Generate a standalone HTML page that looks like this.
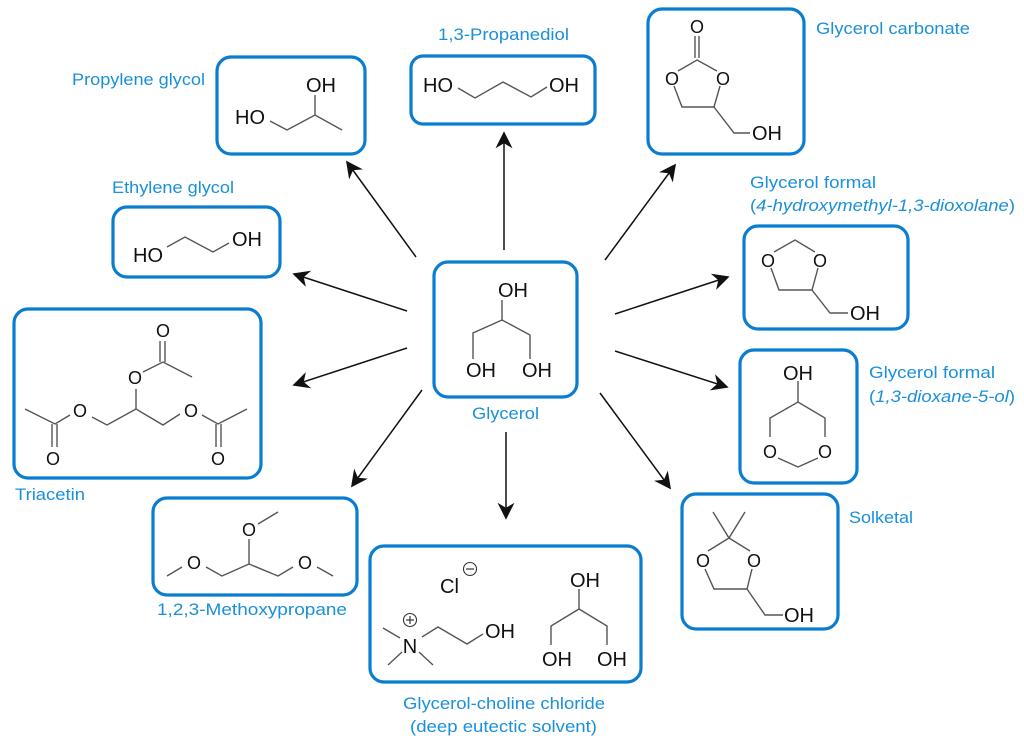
<!DOCTYPE html>
<html><head><meta charset="utf-8"><style>
html,body{margin:0;padding:0;background:#fff}
svg{display:block}
.b{fill:none;stroke:#0b7dd0;stroke-width:3.2}
.l{font-family:"Liberation Sans",sans-serif;font-size:16.5px;fill:#1a90d8}
.a{font-family:"Liberation Sans",sans-serif;font-size:20px;fill:#111}
.s{font-family:"Liberation Sans",sans-serif;font-size:18px;fill:#111}
.k{fill:none;stroke:#555;stroke-width:1.4}
.r{stroke:#111;stroke-width:1.5}
</style></head><body>
<svg width="1024" height="745" viewBox="0 0 1024 745" xmlns="http://www.w3.org/2000/svg">
<defs><marker id="m" viewBox="0 0 10 10" refX="9" refY="5" markerWidth="17" markerHeight="17" markerUnits="userSpaceOnUse" orient="auto"><path d="M0,0 L10,5 L0,10 L3,5 z" fill="#111"/></marker></defs>

<!-- arrows -->
<g class="r" marker-end="url(#m)">
<line x1="416" y1="257" x2="347" y2="162"/>
<line x1="504" y1="250" x2="504" y2="133"/>
<line x1="407" y1="311" x2="294" y2="274"/>
<line x1="407" y1="348" x2="294" y2="385"/>
<line x1="605" y1="260" x2="675" y2="165"/>
<line x1="615" y1="314" x2="728" y2="277"/>
<line x1="615" y1="351" x2="727" y2="387"/>
<line x1="600" y1="393" x2="670" y2="488"/>
<line x1="422" y1="390" x2="352" y2="486"/>
<line x1="506" y1="432" x2="506" y2="518"/>
</g>

<!-- boxes -->
<rect class="b" x="217" y="57" width="148" height="97" rx="14"/>
<rect class="b" x="411" y="56" width="184" height="68" rx="12"/>
<rect class="b" x="648" y="9" width="156" height="145" rx="14"/>
<rect class="b" x="113" y="207" width="167" height="70" rx="14"/>
<rect class="b" x="744" y="226" width="164" height="103" rx="14"/>
<rect class="b" x="434" y="262" width="143" height="135" rx="14"/>
<rect class="b" x="14" y="309" width="247" height="169" rx="14"/>
<rect class="b" x="740" y="350" width="117" height="133" rx="14"/>
<rect class="b" x="682" y="494" width="156" height="135" rx="14"/>
<rect class="b" x="153" y="498" width="204" height="97" rx="14"/>
<rect class="b" x="370" y="546" width="271" height="136" rx="14"/>

<!-- labels -->
<text class="l" x="72" y="85" textLength="133" lengthAdjust="spacingAndGlyphs">Propylene glycol</text>
<text class="l" x="438" y="40" textLength="131" lengthAdjust="spacingAndGlyphs">1,3-Propanediol</text>
<text class="l" x="816" y="34" textLength="154" lengthAdjust="spacingAndGlyphs">Glycerol carbonate</text>
<text class="l" x="112" y="193" textLength="122" lengthAdjust="spacingAndGlyphs">Ethylene glycol</text>
<text class="l" x="750" y="188" textLength="126" lengthAdjust="spacingAndGlyphs">Glycerol formal</text>
<text class="l" x="750" y="211" textLength="265" lengthAdjust="spacingAndGlyphs">(<tspan font-style="italic">4-hydroxymethyl-1,3-dioxolane</tspan>)</text>
<text class="l" x="869" y="378" textLength="126" lengthAdjust="spacingAndGlyphs">Glycerol formal</text>
<text class="l" x="869" y="402" textLength="146" lengthAdjust="spacingAndGlyphs">(<tspan font-style="italic">1,3-dioxane-5-ol</tspan>)</text>
<text class="l" x="472" y="419" textLength="67" lengthAdjust="spacingAndGlyphs">Glycerol</text>
<text class="l" x="15" y="500" textLength="70" lengthAdjust="spacingAndGlyphs">Triacetin</text>
<text class="l" x="849" y="523" textLength="64" lengthAdjust="spacingAndGlyphs">Solketal</text>
<text class="l" x="157" y="615" textLength="190" lengthAdjust="spacingAndGlyphs">1,2,3-Methoxypropane</text>
<text class="l" x="403" y="709" textLength="202" lengthAdjust="spacingAndGlyphs">Glycerol-choline chloride</text>
<text class="l" x="410" y="732" textLength="187" lengthAdjust="spacingAndGlyphs">(deep eutectic solvent)</text>

<!-- Propylene glycol -->
<polyline class="k" points="270,121 287,130 315,115 342,130"/>
<line class="k" x1="315" y1="115" x2="315" y2="95"/>
<text class="a" x="235" y="124">HO</text>
<text class="a" x="306" y="92">OH</text>

<!-- 1,3-propanediol -->
<polyline class="k" points="458,88 475,98 503,82 531,97 547,87"/>
<text class="a" x="423" y="92">HO</text>
<text class="a" x="549" y="92">OH</text>

<!-- Ethylene glycol -->
<polyline class="k" points="167,247 185,237 213,252 229,243"/>
<text class="a" x="133" y="262">HO</text>
<text class="a" x="232" y="246">OH</text>

<!-- Glycerol carbonate -->
<line class="k" x1="695" y1="36" x2="695" y2="58"/><line class="k" x1="699" y1="36" x2="699" y2="58"/>
<polyline class="k" points="678,71 697,60 717,71"/>
<polyline class="k" points="674,86 682,107 714,107 720,86"/>
<polyline class="k" points="714,107 734,133 750,133"/>
<text class="s" x="697" y="33" text-anchor="middle">O</text>
<text class="s" x="672" y="85" text-anchor="middle">O</text>
<text class="s" x="723" y="85" text-anchor="middle">O</text>
<text class="a" x="752" y="140">OH</text>

<!-- Glycerol formal 1 -->
<polyline class="k" points="774,252 795,240 815,252"/>
<polyline class="k" points="771,268 779,290 812,290 818,268"/>
<polyline class="k" points="812,290 830,313 848,313"/>
<text class="s" x="768" y="267" text-anchor="middle">O</text>
<text class="s" x="820" y="267" text-anchor="middle">O</text>
<text class="a" x="850" y="320">OH</text>

<!-- Glycerol -->
<line class="k" x1="502" y1="300" x2="502" y2="320"/>
<polyline class="k" points="473,359 473,333 502,320 530,335 530,359"/>
<text class="a" x="498" y="297">OH</text>
<text class="a" x="466" y="377">OH</text>
<text class="a" x="522" y="377">OH</text>

<!-- Triacetin -->
<line class="k" x1="160" y1="341" x2="160" y2="362"/><line class="k" x1="165" y1="341" x2="165" y2="362"/>
<polyline class="k" points="143,372 163,362 192,377"/>
<line class="k" x1="136" y1="389" x2="136" y2="409"/>
<polyline class="k" points="92,417 107,425 136,409 163,425 180,414"/>
<polyline class="k" points="70,415 55,424 25,409"/>
<line class="k" x1="52" y1="424" x2="52" y2="447"/><line class="k" x1="57" y1="424" x2="57" y2="447"/>
<polyline class="k" points="202,415 218,424 247,409"/>
<line class="k" x1="216" y1="424" x2="216" y2="447"/><line class="k" x1="221" y1="424" x2="221" y2="447"/>
<text class="s" x="163" y="337" text-anchor="middle">O</text>
<text class="s" x="135" y="384" text-anchor="middle">O</text>
<text class="s" x="80" y="417" text-anchor="middle">O</text>
<text class="s" x="191" y="417" text-anchor="middle">O</text>
<text class="s" x="53" y="465" text-anchor="middle">O</text>
<text class="s" x="218" y="465" text-anchor="middle">O</text>

<!-- Glycerol formal 2 -->
<line class="k" x1="798" y1="381" x2="798" y2="402"/>
<polyline class="k" points="770,437 770,418 798,402 825,418 825,437"/>
<polyline class="k" points="778,458 798,467 818,458"/>
<text class="a" x="783" y="380">OH</text>
<text class="s" x="770" y="458" text-anchor="middle">O</text>
<text class="s" x="825" y="458" text-anchor="middle">O</text>

<!-- Solketal -->
<polyline class="k" points="713,512 729,538 745,512"/>
<polyline class="k" points="708,551 729,538 750,551"/>
<polyline class="k" points="705,569 714,589 747,589 752,569"/>
<polyline class="k" points="747,589 765,615 783,615"/>
<text class="s" x="703" y="567" text-anchor="middle">O</text>
<text class="s" x="754" y="567" text-anchor="middle">O</text>
<text class="a" x="784" y="622">OH</text>

<!-- Methoxypropane -->
<line class="k" x1="258" y1="524" x2="278" y2="512"/>
<line class="k" x1="249" y1="539" x2="249" y2="564"/>
<polyline class="k" points="206,567 222,576 249,564 278,576 293,567"/>
<line class="k" x1="182" y1="567" x2="167" y2="576"/>
<line class="k" x1="317" y1="567" x2="333" y2="576"/>
<text class="s" x="249" y="536" text-anchor="middle">O</text>
<text class="s" x="194" y="569" text-anchor="middle">O</text>
<text class="s" x="305" y="569" text-anchor="middle">O</text>

<!-- DES -->
<text class="a" x="440" y="593">Cl</text>
<circle cx="470" cy="569" r="6.5" fill="none" stroke="#333" stroke-width="1.1"/>
<line x1="466" y1="569" x2="474" y2="569" stroke="#333" stroke-width="1.2"/>
<text class="a" x="410" y="653" text-anchor="middle">N</text>
<circle cx="410" cy="620" r="6.5" fill="none" stroke="#333" stroke-width="1.1"/>
<line x1="406" y1="620" x2="414" y2="620" stroke="#333" stroke-width="1.2"/>
<line x1="410" y1="616" x2="410" y2="624" stroke="#333" stroke-width="1.2"/>
<line class="k" x1="383" y1="628" x2="400" y2="638"/>
<line class="k" x1="388" y1="665" x2="402" y2="652"/>
<line class="k" x1="433" y1="665" x2="419" y2="652"/>
<polyline class="k" points="422,637 438,627 467,644 483,634"/>
<text class="a" x="485" y="638">OH</text>
<line class="k" x1="579" y1="589" x2="579" y2="609"/>
<polyline class="k" points="551,645 551,626 579,609 607,626 607,645"/>
<text class="a" x="570" y="587">OH</text>
<text class="a" x="542" y="666">OH</text>
<text class="a" x="597" y="666">OH</text>
</svg>
</body></html>
